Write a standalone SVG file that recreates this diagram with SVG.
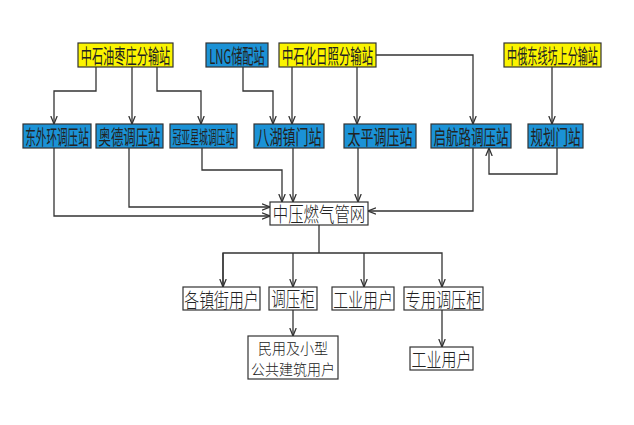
<svg xmlns="http://www.w3.org/2000/svg" width="634" height="425" viewBox="0 0 634 425">
<style>
.y{fill:#fbf400;stroke:#333;stroke-width:1.2}
.b{fill:#1b92d6;stroke:#333;stroke-width:1.2}
.w{fill:#fff;stroke:#333;stroke-width:1.2}
text{font-family:"Noto Sans CJK SC",sans-serif;fill:#222;dominant-baseline:central;text-anchor:middle}
.t{font-weight:400}
.tl{font-weight:300}
.c path{fill:none;stroke:#333;stroke-width:1.3}
</style>
<defs>
<marker id="a" viewBox="0 0 10 10" refX="10" refY="5" markerWidth="8" markerHeight="8" markerUnits="userSpaceOnUse" orient="auto">
<path d="M0,1 L10,5 L0,9" fill="none" stroke="#333" stroke-width="1.6"/>
</marker>
</defs>
<rect width="634" height="425" fill="#fff"/>
<g class="c">
<path d="M96,67 V91 H54 V124" marker-end="url(#a)"/>
<path d="M132,67 V124" marker-end="url(#a)"/>
<path d="M157,67 V91 H201 V124" marker-end="url(#a)"/>
<path d="M243,67 V91 H273 V124" marker-end="url(#a)"/>
<path d="M292,67 V124" marker-end="url(#a)"/>
<path d="M357,67 V124" marker-end="url(#a)"/>
<path d="M376,55 H473 V124" marker-end="url(#a)"/>
<path d="M552,67 V124" marker-end="url(#a)"/>
<path d="M557,148 V174 H489 V148" marker-end="url(#a)"/>
<path d="M54,148 V216 H270" marker-end="url(#a)"/>
<path d="M129,148 V207 H270" marker-end="url(#a)"/>
<path d="M202,148 V170 H282 V202" marker-end="url(#a)"/>
<path d="M293,148 V202" marker-end="url(#a)"/>
<path d="M358,148 V202" marker-end="url(#a)"/>
<path d="M473,148 V211 H368" marker-end="url(#a)"/>
<path d="M319,225 V253"/>
<path d="M223,287 V253 H442 V287" marker-end="url(#a)"/>
<path d="M223,253 V287" marker-end="url(#a)"/>
<path d="M293,253 V287" marker-end="url(#a)"/>
<path d="M364,253 V287" marker-end="url(#a)"/>
<path d="M293,310 V336" marker-end="url(#a)"/>
<path d="M442,310 V347" marker-end="url(#a)"/>
</g>
<g id="n1"><rect class="y" x="78" y="43" width="95" height="24"/><text class="t" font-size="11.2" transform="translate(125.5,55) scale(1,1.85)">中石油枣庄分输站</text></g>
<g id="n2"><rect class="b" x="206" y="43" width="62" height="24"/><text class="t" font-size="11.2" transform="translate(237,55) scale(1,1.85)">LNG储配站</text></g>
<g id="n3"><rect class="y" x="279" y="43" width="97" height="24"/><text class="t" font-size="11.4" transform="translate(327.5,55) scale(1,1.82)">中石化日照分输站</text></g>
<g id="n4"><rect class="y" x="504" y="43" width="97" height="24"/><text class="t" font-size="10.1" transform="translate(552.5,55) scale(1,2.05)">中俄东线坊上分输站</text></g>
<g id="n5"><rect class="b" x="23" y="124" width="68" height="24"/><text class="t" font-size="10.6" transform="translate(57,136) scale(1,1.95)">东外环调压站</text></g>
<g id="n6"><rect class="b" x="96" y="124" width="67" height="24"/><text class="t" font-size="12.4" transform="translate(129.5,136) scale(1,1.65)">奥德调压站</text></g>
<g id="n7"><rect class="b" x="170" y="124" width="67" height="24"/><text class="t" font-size="8.9" transform="translate(203.5,136) scale(1,2.1)">冠亚星城调压站</text></g>
<g id="n8"><rect class="b" x="254" y="124" width="70" height="24"/><text class="t" font-size="13" transform="translate(289,136) scale(1,1.6)">八湖镇门站</text></g>
<g id="n9"><rect class="b" x="344" y="124" width="72" height="24"/><text class="t" font-size="13" transform="translate(380,136) scale(1,1.6)">太平调压站</text></g>
<g id="n10"><rect class="b" x="431" y="124" width="80" height="24"/><text class="t" font-size="12.5" transform="translate(471,136) scale(1,1.65)">启航路调压站</text></g>
<g id="n11"><rect class="b" x="528" y="124" width="55" height="24"/><text class="t" font-size="12.5" transform="translate(555.5,136) scale(1,1.65)">规划门站</text></g>
<g id="n12"><rect class="w" x="270" y="202" width="98" height="23"/><text class="tl" font-size="15.4" transform="translate(319,213.5) scale(1,1.3)">中压燃气管网</text></g>
<g id="n13"><rect class="w" x="183" y="287" width="77" height="23"/><text class="tl" font-size="14.9" transform="translate(221.5,298.5) scale(1,1.35)">各镇街用户</text></g>
<g id="n14"><rect class="w" x="269" y="287" width="48" height="23"/><text class="tl" font-size="14.5" transform="translate(293,298.5) scale(1,1.38)">调压柜</text></g>
<g id="n15"><rect class="w" x="332" y="287" width="62" height="23"/><text class="tl" font-size="14.9" transform="translate(363,298.5) scale(1,1.35)">工业用户</text></g>
<g id="n16"><rect class="w" x="404" y="287" width="79" height="23"/><text class="tl" font-size="15.2" transform="translate(443.5,298.5) scale(1,1.32)">专用调压柜</text></g>
<g id="n17"><rect class="w" x="248" y="336" width="90" height="43"/><text class="tl" font-size="14" transform="translate(293,357.5) scale(1,1.05)"><tspan x="0" y="-10.2">民用及小型</tspan><tspan x="0" y="10.2">公共建筑用户</tspan></text></g>
<g id="n18"><rect class="w" x="410" y="347" width="63" height="23"/><text class="tl" font-size="15" transform="translate(441.5,358.5) scale(1,1.32)">工业用户</text></g>
</svg>
